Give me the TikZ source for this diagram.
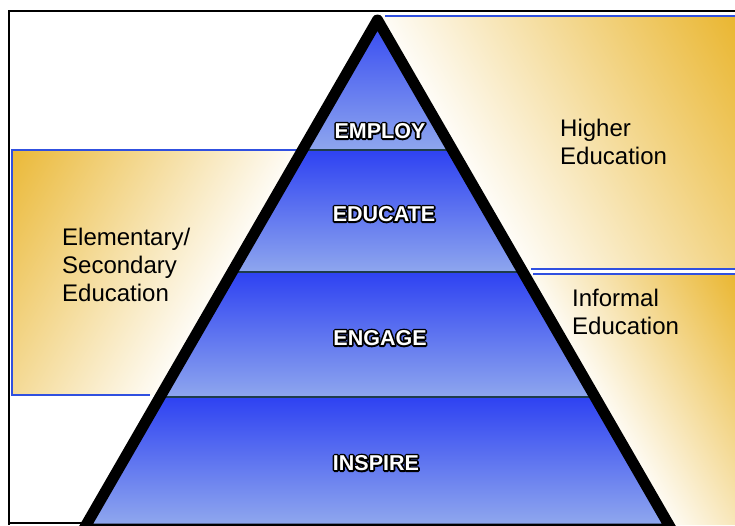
\documentclass[tikz,border=0pt]{standalone}
\usepackage{fontspec}
\setmainfont{Liberation Sans}
\definecolor{gold}{RGB}{233,180,42}
\definecolor{bandtop}{RGB}{46,66,242}
\definecolor{bandbot}{RGB}{142,166,238}
\definecolor{rimblue}{RGB}{48,80,224}
\definecolor{seam}{RGB}{30,60,76}
\tikzset{
  band/.style={top color=bandtop,bottom color=bandbot},
  rim/.style={rimblue,line width=1.6pt},
  tier/.style={font=\fontsize{21.5}{23}\selectfont\bfseries,text=black,inner sep=0pt},
  level/.style={font=\fontsize{24}{28}\selectfont,align=left,anchor=west,inner sep=0pt}
}
\newcommand{\tierlabel}[1]{\makebox[0pt][l]{\special{pdf:literal direct 1 j 3.4 w 2 Tr}#1\special{pdf:literal direct 0 Tr 0 j}}\textcolor{white}{#1}}
\begin{document}
\begin{tikzpicture}[x=1pt,y=-1pt]
\useasboundingbox (0,0) rectangle (735,525);
\clip (0,0) rectangle (735,525);
\fill[white] (0,0) rectangle (735,525);
\coordinate (apex) at (377.5,20);
\coordinate (baseL) at (83.8,529);
\coordinate (baseR) at (671.2,529);
\begin{scope}
\clip (11,150) -- (305,150) -- (160,395) -- (11,395) -- cycle;
\shade[transform canvas={rotate around={-30:(apex)}},left color=gold,middle color=gold!45!white,right color=white] (107.5,150) rectangle (385,540);
\end{scope}
\begin{scope}
\clip (380,16) -- (735,16) -- (735,269) -- (523,269) -- cycle;
\shade[transform canvas={rotate around={30:(apex)}},left color=white,middle color=gold!45!white,right color=gold] (370,-20) rectangle (700,430);
\end{scope}
\begin{scope}
\clip (526,274) -- (735,274) -- (735,525) -- (670,525) -- cycle;
\shade[transform canvas={rotate around={30:(apex)}},left color=white,middle color=gold!35!white,right color=gold] (370,300) rectangle (567.5,640);
\end{scope}
\draw[rim] (11,150) -- (298,150);
\draw[rim] (11,395) -- (150,395);
\draw[rimblue,line width=2.4pt] (12,150) -- (12,395);
\draw[rim] (385,16) -- (735,16);
\draw[rim] (531,269) -- (735,269);
\draw[rim] (533,274) -- (735,274);
\begin{scope}
\clip (apex) -- (baseL) -- (baseR) -- cycle;
\shade[band] (70,10) rectangle (690,150);
\shade[band] (70,150) rectangle (690,272);
\shade[band] (70,272) rectangle (690,397);
\shade[band] (70,397) rectangle (690,523);
\draw[seam,line width=1.2pt] (70,150) -- (690,150);
\draw[seam,line width=1.2pt] (70,272) -- (690,272);
\draw[seam,line width=1.2pt] (70,397) -- (690,397);
\end{scope}
\draw[line width=11pt,line join=round] (apex) -- (baseL) -- (baseR) -- cycle;
\draw[line width=2pt] (9,525) -- (9,11) -- (735,11);
\draw[line width=1.3pt] (9,523) -- (84,523);
\node[level] (school) at (62,265) {Elementary/\\Secondary\\Education};
\node[level] (higher) at (560,142) {Higher\\Education};
\node[level] (informal) at (572,312) {Informal\\Education};
\node[tier] (employ) at (380,131) {\tierlabel{EMPLOY}};
\node[tier] (educate) at (384,214) {\tierlabel{EDUCATE}};
\node[tier] (engage) at (380,338) {\tierlabel{ENGAGE}};
\node[tier] (inspire) at (376,463) {\tierlabel{INSPIRE}};
\end{tikzpicture}
\end{document}
